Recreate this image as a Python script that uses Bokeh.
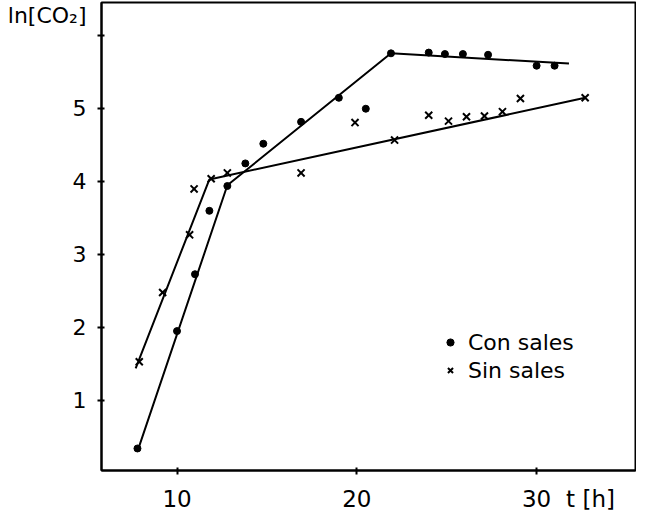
from bokeh.plotting import figure
from bokeh.models import Range1d, FixedTicker, Legend, LegendItem
from bokeh.embed import file_html
from bokeh.resources import INLINE

# ---- data ----
con_t = [7.8, 10.0, 11.0, 11.8, 12.8, 13.8, 14.8, 16.9, 19.0, 20.5, 21.9, 24.0, 24.9, 25.9, 27.3, 30.0, 31.0]
con_y = [0.34, 1.95, 2.73, 3.60, 3.94, 4.25, 4.52, 4.82, 5.15, 5.00, 5.76, 5.77, 5.75, 5.75, 5.74, 5.59, 5.59]
sin_t = [7.9, 9.2, 10.7, 10.95, 11.9, 12.8, 16.9, 19.9, 22.1, 24.0, 25.1, 26.1, 27.1, 28.1, 29.1, 32.7]
sin_y = [1.53, 2.48, 3.27, 3.90, 4.04, 4.12, 4.12, 4.81, 4.57, 4.91, 4.83, 4.89, 4.90, 4.96, 5.14, 5.15]

# fitted straight-line segments
con_fit_t = [7.8, 12.8, 21.9, 31.8]
con_fit_y = [0.30, 3.95, 5.76, 5.62]
sin_fit_t = [7.7, 11.8, 32.7]
sin_fit_y = [1.44, 4.03, 5.15]

x_ticks = [10, 20, 30]
y_ticks = [1, 2, 3, 4, 5, 6]
series_labels = ["Con sales", "Sin sales"]
x_title, x_title_at = "t [h]", 33.0        # axis title written beside the last tick
y_title, y_title_at = "ln[CO\u2082]", 6.28  # axis title written at the top of the axis

FONT = "DejaVu Sans"

p = figure(width=636, height=514,
           x_range=Range1d(5.8, 35.5), y_range=Range1d(0.038, 6.457),
           output_backend="svg", toolbar_location=None,
           min_border_left=101, min_border_right=1,
           min_border_top=2, min_border_bottom=44)

p.xgrid.visible = False
p.ygrid.visible = False
p.outline_line_color = "black"
p.outline_line_width = 2
p.background_fill_color = "white"
p.border_fill_color = "white"

for ax in (p.xaxis, p.yaxis):
    ax.axis_line_width = 2
    ax.axis_line_color = "black"
    # label positions are the major ticks; the drawn tick marks are the minor ticks
    ax.major_tick_line_color = None
    ax.major_tick_in = 3
    ax.major_tick_out = 4
    ax.minor_tick_line_color = "black"
    ax.minor_tick_line_width = 2
    ax.minor_tick_in = 3
    ax.minor_tick_out = 4
    ax.major_label_text_font = FONT
    ax.major_label_text_color = "black"

p.xaxis.ticker = FixedTicker(ticks=x_ticks + [x_title_at], minor_ticks=x_ticks)
p.yaxis.ticker = FixedTicker(ticks=y_ticks[:-1] + [y_title_at], minor_ticks=y_ticks)
p.xaxis.major_label_overrides = {x_title_at: x_title}
p.yaxis.major_label_overrides = {y_title_at: y_title}
p.xaxis.major_label_text_font_size = "23px"
p.yaxis.major_label_text_font_size = "22px"
p.xaxis.major_label_standoff = 11
p.yaxis.major_label_standoff = 11

# fitted lines
p.line(con_fit_t, con_fit_y, line_color="black", line_width=2)
p.line(sin_fit_t, sin_fit_y, line_color="black", line_width=2)

# data points
r_con = p.scatter(con_t, con_y, marker="circle", size=7, fill_color="black", line_color="black")
r_sin = p.scatter(sin_t, sin_y, marker="x", size=10, line_color="black", line_width=2)

legend = Legend(items=[LegendItem(label=series_labels[0], renderers=[r_con]),
                       LegendItem(label=series_labels[1], renderers=[r_sin])],
                location=(340, 86), border_line_color=None, background_fill_alpha=0,
                padding=0, margin=0, spacing=0, glyph_width=18, glyph_height=18,
                label_height=28, label_standoff=9,
                label_text_font=FONT, label_text_font_size="22px", label_text_color="black")
p.add_layout(legend)

open("out.html", "w").write(file_html(p, INLINE))
